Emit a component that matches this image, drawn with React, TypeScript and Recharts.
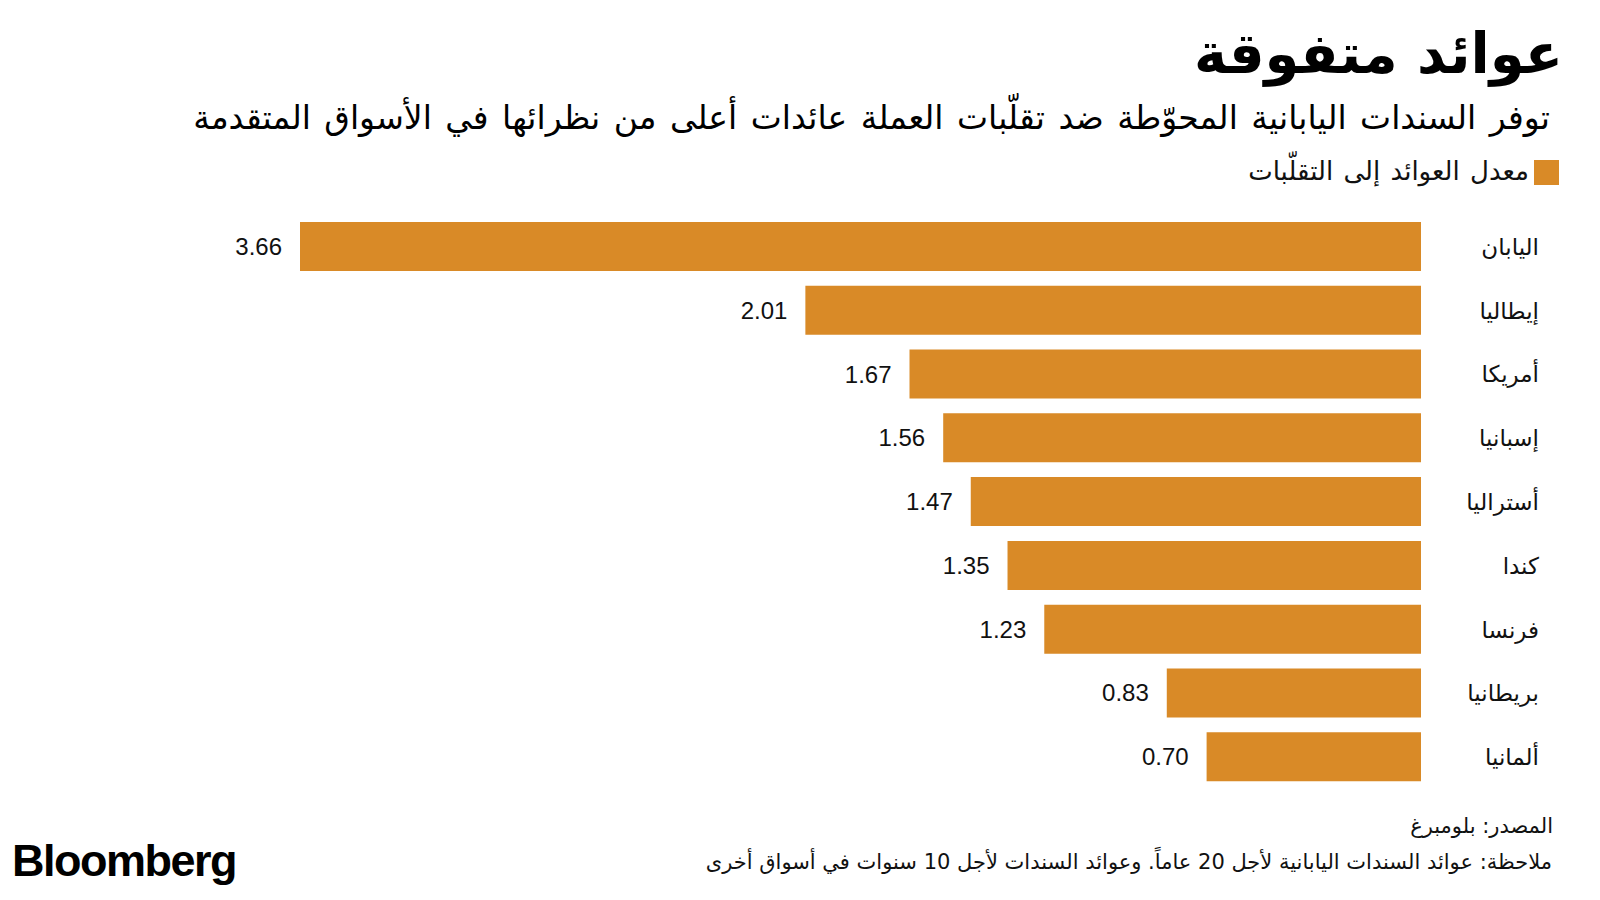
import { BarChart, Bar, XAxis, YAxis, LabelList } from "recharts"

const countries = ["اليابان", "إيطاليا", "أمريكا", "إسبانيا", "أستراليا", "كندا", "فرنسا", "بريطانيا", "ألمانيا"]
const ratios = [3.66, 2.01, 1.67, 1.56, 1.47, 1.35, 1.23, 0.83, 0.7]

const title = "عوائد متفوقة"
const subtitle = "توفر السندات اليابانية المحوّطة ضد تقلّبات العملة عائدات أعلى من نظرائها في الأسواق المتقدمة"
const legendLabel = "معدل العوائد إلى التقلّبات"
const source = "المصدر: بلومبرغ"
const note = "ملاحظة: عوائد السندات اليابانية لأجل 20 عاماً. وعوائد السندات لأجل 10 سنوات في أسواق أخرى"

const BAR = "#D98A27"
const AR_FONT = "'DejaVu Sans', sans-serif"
const NUM_FONT = "'Liberation Sans', Arial, sans-serif"

const data = countries.map((country, i) => ({ country, ratio: ratios[i] }))

const CountryTick = (props: any) => {
    const { x, y, payload } = props
    return (
        <text x={x + 110} y={y} textAnchor="end" dominantBaseline="central" fontFamily={AR_FONT} fontSize={23} fill="#111">
            {payload.value}
        </text>
    )
}

const ValueLabel = (props: any) => {
    const { x, y, width, height, value } = props
    const left = Math.min(x, x + width)
    return (
        <text x={left - 18} y={y + height / 2} textAnchor="end" dominantBaseline="central" fontFamily={NUM_FONT} fontSize={24} fill="#111">
            {Number(value).toFixed(2)}
        </text>
    )
}

export default function App() {
    return (
        <div style={{ position: "absolute", left: 0, top: 0, width: 1600, height: 900, background: "#fff", overflow: "hidden" }}>
            <div style={{ position: "absolute", right: 37, top: 20, direction: "rtl", fontFamily: AR_FONT, fontWeight: 700, fontSize: 56, color: "#000", lineHeight: 1.2 }}>
                {title}
            </div>
            <div style={{ position: "absolute", right: 50, top: 98, direction: "rtl", fontFamily: AR_FONT, fontSize: 33, wordSpacing: 3, color: "#000", whiteSpace: "nowrap", lineHeight: 1.2 }}>
                {subtitle}
            </div>
            <div style={{ position: "absolute", right: 41, top: 160, width: 25, height: 25, background: BAR }} />
            <div style={{ position: "absolute", right: 71, top: 153, direction: "rtl", fontFamily: AR_FONT, fontSize: 26, wordSpacing: 2, color: "#111", whiteSpace: "nowrap", lineHeight: 1.4 }}>
                {legendLabel}
            </div>

            <div style={{ position: "absolute", left: 0, top: 0 }}>
                <BarChart width={1600} height={900} data={data} layout="vertical" margin={{ top: 215, right: 0, bottom: 111, left: 300 }}>
                    <XAxis type="number" hide reversed domain={[0, "dataMax"]} />
                    <YAxis type="category" dataKey="country" orientation="right" width={179} axisLine={false} tickLine={false} tick={<CountryTick />} interval={0} />
                    <Bar dataKey="ratio" fill={BAR} barSize={49} isAnimationActive={false}>
                        <LabelList dataKey="ratio" content={<ValueLabel />} />
                    </Bar>
                </BarChart>
            </div>

            <div style={{ position: "absolute", right: 47, top: 814, direction: "rtl", fontFamily: AR_FONT, fontSize: 21, color: "#111", whiteSpace: "nowrap" }}>
                {source}
            </div>
            <div style={{ position: "absolute", right: 48, top: 850, direction: "rtl", fontFamily: AR_FONT, fontSize: 21, color: "#111", whiteSpace: "nowrap" }}>
                {note}
            </div>
            <div style={{ position: "absolute", left: 12, top: 836, fontFamily: NUM_FONT, fontWeight: 700, fontSize: 45, letterSpacing: -1.5, color: "#000", lineHeight: 1.1 }}>
                Bloomberg
            </div>
        </div>
    )
}
